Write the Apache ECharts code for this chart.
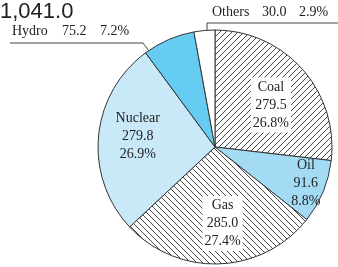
<!DOCTYPE html>
<html>
<head>
<meta charset="utf-8">
<script src="https://cdn.jsdelivr.net/npm/echarts@6/dist/echarts.min.js"></script>
<style>
  html, body { margin: 0; padding: 0; background: #fff; }
  #chart { width: 338px; height: 267px; }
</style>
</head>
<body>
<div id="chart"></div>
<script>
// data
var total = '1,041.0';
var names = ['Coal', 'Oil', 'Gas', 'Nuclear', 'Hydro', 'Others'];
var values = [279.5, 91.6, 285.0, 279.8, 75.2, 30.0];
var percents = ['26.8%', '8.8%', '27.4%', '26.9%', '7.2%', '2.9%'];

// hatch pattern: dir 1 = '/', -1 = '\'
function hatch(dir) {
  var s = 6;
  var c = document.createElement('canvas');
  c.width = s; c.height = s;
  var ctx = c.getContext('2d');
  ctx.fillStyle = '#fff';
  ctx.fillRect(0, 0, s, s);
  ctx.strokeStyle = '#333';
  ctx.lineWidth = 0.9;
  ctx.beginPath();
  if (dir > 0) {
    ctx.moveTo(0, s); ctx.lineTo(s, 0);
    ctx.moveTo(-1, 1); ctx.lineTo(1, -1);
    ctx.moveTo(s - 1, s + 1); ctx.lineTo(s + 1, s - 1);
  } else {
    ctx.moveTo(0, 0); ctx.lineTo(s, s);
    ctx.moveTo(-1, s - 1); ctx.lineTo(1, s + 1);
    ctx.moveTo(s - 1, -1); ctx.lineTo(s + 1, 1);
  }
  ctx.stroke();
  return { image: c, repeat: 'repeat' };
}

var fills = [hatch(1), '#a3dbf5', hatch(-1), '#c9e9f9', '#66ccf2', '#ffffff'];
// inside label offsets
var offsets = [[10, -1], [34, 13], [5, 15], [-16, -5]];
var serif = '"Liberation Serif", "DejaVu Serif", serif';

var pieData = names.map(function (n, i) {
  var item = { name: n, value: values[i], itemStyle: { color: fills[i] } };
  if (i < 4) {
    var boxed = (i === 0 || i === 2);
    item.label = {
      position: 'inside',
      offset: offsets[i],
      fontFamily: serif, fontSize: 14, color: '#222', lineHeight: 18,
      backgroundColor: boxed ? '#fff' : 'transparent',
      padding: boxed ? [1, 2, 0, 2] : 0,
      formatter: n + '\n' + values[i].toFixed(1) + '\n' + percents[i]
    };
    item.labelLine = { show: false };
  } else {
    var w = i === 4 ? [50, 38] : [50, 37];
    item.label = {
      position: 'outside',
      formatter: '{n|' + n + '}{v|' + values[i].toFixed(1) + '}{p|' + percents[i] + '}',
      rich: {
        n: { fontFamily: serif, fontSize: 14, color: '#222', width: w[0] },
        v: { fontFamily: serif, fontSize: 14, color: '#222', width: w[1] },
        p: { fontFamily: serif, fontSize: 14, color: '#222' }
      }
    };
    item.labelLine = { show: true, lineStyle: { color: '#444', width: 1 } };
  }
  return item;
});

var chart = echarts.init(document.getElementById('chart'));
var option = {
  animation: false,
  title: {
    text: total,
    left: 0,
    top: 1,
    padding: 0,
    textStyle: { fontFamily: '"Liberation Sans", Arial, sans-serif', fontSize: 22, fontWeight: 'normal', color: '#222' }
  },
  series: [{
    type: 'pie',
    center: [215, 147],
    radius: 117,
    startAngle: 90,
    clockwise: true,
    avoidLabelOverlap: false,
    itemStyle: { borderColor: '#333', borderWidth: 1 },
    emphasis: { disabled: true },
    data: pieData,
    labelLayout: function (p) {
      if (p.dataIndex === 4) {
        return { x: 12, y: 31, align: 'left', verticalAlign: 'middle',
          labelLinePoints: [[149, 51], [143, 43], [10, 43]] };
      }
      if (p.dataIndex === 5) {
        return { x: 212, y: 12, align: 'left', verticalAlign: 'middle',
          labelLinePoints: [[207, 31], [207, 23], [338, 23]] };
      }
      return {};
    }
  }]
};
chart.setOption(option);
</script>
</body>
</html>
